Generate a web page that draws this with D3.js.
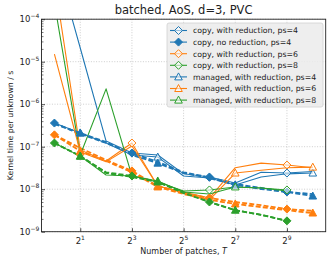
<!DOCTYPE html>
<html><head><meta charset="utf-8">
<script src="https://cdn.jsdelivr.net/npm/d3@7"></script>
<style>body{margin:0;background:#fff}svg{display:block}text{font-family:"DejaVu Sans",sans-serif;fill:#222}</style>
</head><body><svg id="c" width="332" height="263"></svg>
<script>
// ---- data ----
const patches = [1,2,4,8,16,32,64,128,256,512,1024];
const xTickExps = [1,3,5,7,9];
const yTickExps = [-9,-8,-7,-6,-5,-4];
const titleText = "batched, AoS, d=3, PVC";
const xLabel = "Number of patches, ";
const yLabel = "Kernel time per unknown / s";

const copyRed4     = [3.1e-3, 2.1e-5, 1.36e-7, 7.1e-8, 6.4e-8, 2.3e-8, 1.94e-8, 1.4e-8, 2.5e-8, 2.4e-8, 2.6e-8];
const copyNoRed4   = [3.6e-7, 2.0e-7, 1.22e-7, 7.1e-8, 4.4e-8, 2.5e-8, 1.9e-8, 1.33e-8, 1.07e-8, 8.6e-9, 7.7e-9];
const copyRed6     = [8.3e-4, 8.4e-8, 4.6e-8, 1.22e-7, 1.19e-8, 8.6e-9, 6.2e-9, 3.2e-8, 4.1e-8, 3.7e-8, 3.2e-8];
const copyNoRed6   = [1.9e-7, 9.3e-8, 4.9e-8, 2.7e-8, 1.19e-8, 8.1e-9, 6.2e-9, 5.0e-9, 4.2e-9, 3.4e-9, 3.1e-9];
const copyRed8     = [2.4e-4, 6.4e-8, 2.3e-6, 2.05e-8, 1.48e-8, 9.1e-9, 9.6e-9, 1.13e-8, 1.07e-8, 9.6e-9];
const copyNoRed8   = [1.22e-7, 6.0e-8, 2.5e-8, 2.05e-8, 1.48e-8, 8.6e-9, 5.0e-9, 3.2e-9, 2.5e-9, 1.8e-9];
const managedRed4  = [3.6e-7, 2.1e-7, 1.22e-7, 6.4e-8, 5.7e-8, 2.05e-8, 1.83e-8, 1.26e-8, 1.94e-8, 2.3e-8, 2.4e-8];
const managedNoRed4= [3.4e-7, 2.1e-7, 1.29e-7, 6.4e-8, 4.1e-8, 2.4e-8, 1.83e-8, 1.26e-8, 1.01e-8, 8.6e-9, 6.9e-9];
const managedRed6  = [1.5e-5, 7.5e-8, 4.4e-8, 1.04e-7, 1.19e-8, 8.1e-9, 5.6e-9, 2.4e-8, 2.8e-8, 3.2e-8, 3.3e-8];
const managedNoRed6= [1.9e-7, 7.9e-8, 4.6e-8, 2.5e-8, 1.13e-8, 7.7e-9, 5.6e-9, 4.5e-9, 3.8e-9, 3.2e-9, 2.75e-9];
const managedRed8  = [1.22e-7, 6.0e-8, 2.16e-8, 2.05e-8, 1.56e-8, 8.6e-9, 7.7e-9, 1.13e-8, 1.07e-8, 9.1e-9];
const managedNoRed8= [1.22e-7, 6.0e-8, 2.4e-8, 1.94e-8, 1.48e-8, 8.1e-9, 5.0e-9, 3.2e-9, 2.5e-9, 1.8e-9];

const C4 = "#1f77b4", C6 = "#ff7f0e", C8 = "#2ca02c";
const series = [
  {label:"copy, with reduction, ps=4", v:copyRed4, color:C4, dashed:false, marker:"D", open:true, start:0},
  {label:"copy, no reduction, ps=4", v:copyNoRed4, color:C4, dashed:true, marker:"D", open:false, start:0},
  {label:"copy, with reduction, ps=6", v:copyRed6, color:C6, dashed:false, marker:"D", open:true, start:0},
  {label:null, v:copyNoRed6, color:C6, dashed:true, marker:"D", open:false, start:0},
  {label:"copy, with reduction, ps=8", v:copyRed8, color:C8, dashed:false, marker:"D", open:true, start:0},
  {label:null, v:copyNoRed8, color:C8, dashed:true, marker:"D", open:false, start:0},
  {label:"managed, with reduction, ps=4", v:managedRed4, color:C4, dashed:false, marker:"^", open:true, start:1},
  {label:null, v:managedNoRed4, color:C4, dashed:true, marker:"^", open:false, start:1},
  {label:"managed, with reduction, ps=6", v:managedRed6, color:C6, dashed:false, marker:"^", open:true, start:1},
  {label:null, v:managedNoRed6, color:C6, dashed:true, marker:"^", open:false, start:1},
  {label:"managed, with reduction, ps=8", v:managedRed8, color:C8, dashed:false, marker:"^", open:true, start:1},
  {label:null, v:managedNoRed8, color:C8, dashed:true, marker:"^", open:false, start:1},
];

// ---- layout ----
const L = 41.5, R = 325.7, T = 19.2, B = 231.7;
const svg = d3.select("#c");
const x = d3.scaleLog().base(2).domain([Math.pow(2,-0.5), Math.pow(2,10.5)]).range([L, R]);
const y = d3.scaleLog().domain([1e-9, 1e-4]).range([B, T]);

svg.append("defs").append("clipPath").attr("id","clip")
  .append("rect").attr("x",L).attr("y",T).attr("width",R-L).attr("height",B-T);

// grid
const grid = svg.append("g").attr("stroke","#b8b8b8").attr("stroke-width",0.7).attr("stroke-dasharray","1,1.6");
xTickExps.forEach(e => grid.append("line").attr("x1",x(Math.pow(2,e))).attr("x2",x(Math.pow(2,e))).attr("y1",T).attr("y2",B));
yTickExps.forEach(e => grid.append("line").attr("y1",y(Math.pow(10,e))).attr("y2",y(Math.pow(10,e))).attr("x1",L).attr("x2",R));

// axes (ticks inward)
const xAxis = d3.axisBottom(x).tickValues(xTickExps.map(e=>Math.pow(2,e))).tickSize(-3.5).tickFormat("");
svg.append("g").attr("transform",`translate(0,${B})`).call(xAxis)
  .call(g=>g.select(".domain").remove()).selectAll("line").attr("stroke","#222").attr("stroke-width",0.8);
const minorY = [];
for (let e=-9;e<-4;e++) for (let m=2;m<10;m++) minorY.push(m*Math.pow(10,e));
const yAxis = d3.axisLeft(y).tickValues(yTickExps.map(e=>Math.pow(10,e))).tickSize(-3.5).tickFormat("");
svg.append("g").attr("transform",`translate(${L},0)`).call(yAxis)
  .call(g=>g.select(".domain").remove()).selectAll("line").attr("stroke","#222").attr("stroke-width",0.8);
const yMinor = d3.axisLeft(y).tickValues(minorY).tickSize(-2).tickFormat("");
svg.append("g").attr("transform",`translate(${L},0)`).call(yMinor)
  .call(g=>g.select(".domain").remove()).selectAll("line").attr("stroke","#222").attr("stroke-width",0.6);

// tick labels
xTickExps.forEach(e=>{
  const t = svg.append("text").attr("x",x(Math.pow(2,e))).attr("y",244).attr("text-anchor","middle").attr("font-size",8.5);
  t.append("tspan").text("2");
  t.append("tspan").attr("dy",-4).attr("font-size",6).text(String(e));
});
yTickExps.forEach(e=>{
  const t = svg.append("text").attr("x",39.3).attr("y",y(Math.pow(10,e))+3.2).attr("text-anchor","end").attr("font-size",8.5);
  t.append("tspan").text("10");
  t.append("tspan").attr("dy",-4).attr("font-size",6).text("\u2212"+Math.abs(e));
});

// axis labels & title
const xl = svg.append("text").attr("x",(L+R)/2).attr("y",254).attr("text-anchor","middle").attr("font-size",8);
xl.append("tspan").text(xLabel);
xl.append("tspan").attr("font-style","italic").text("T");
svg.append("text").attr("transform",`translate(13,${(T+B)/2}) rotate(-90)`).attr("text-anchor","middle").attr("font-size",7.8).text(yLabel);
svg.append("text").attr("x",(L+R)/2).attr("y",14).attr("text-anchor","middle").attr("font-size",11.5).text(titleText);

// marker paths
function markerPath(m){
  if (m==="D") return "M0,-4L4,0L0,4L-4,0Z";
  return "M0,-4L3.8,3L-3.8,3Z";
}

// data lines
const plot = svg.append("g").attr("clip-path","url(#clip)");
const line = d3.line().x((d,i)=>x(patches[i])).y(d=>y(d));
series.forEach(s=>{
  plot.append("path").attr("d",line(s.v)).attr("fill","none").attr("stroke",s.color)
    .attr("stroke-width", s.dashed?1.8:1.1).attr("stroke-dasharray", s.dashed?"5,2.2":null)
    .attr("stroke-linejoin","round");
});
series.forEach(s=>{
  s.v.forEach((d,i)=>{
    if (i<s.start || (i-s.start)%3!==0) return;
    plot.append("path").attr("d",markerPath(s.marker))
      .attr("transform",`translate(${x(patches[i])},${y(d)})`)
      .attr("fill", s.open ? "#fff" : s.color).attr("fill-opacity", s.open?0.55:1)
      .attr("stroke", s.color).attr("stroke-width",1);
  });
});

// frame
svg.append("rect").attr("x",L).attr("y",T).attr("width",R-L).attr("height",B-T)
  .attr("fill","none").attr("stroke","#222").attr("stroke-width",0.9);

// legend
const leg = series.filter(s=>s.label);
const lg = svg.append("g");
lg.append("rect").attr("x",167).attr("y",23).attr("width",156).attr("height",84).attr("rx",2)
  .attr("fill","#ebebeb").attr("fill-opacity",0.85).attr("stroke","#d0d0d0").attr("stroke-width",0.8);
leg.forEach((s,i)=>{
  const yy = 30.5 + i*11.6;
  lg.append("line").attr("x1",170).attr("x2",187).attr("y1",yy).attr("y2",yy)
    .attr("stroke",s.color).attr("stroke-width",1.1);
  lg.append("path").attr("d",markerPath(s.marker)).attr("transform",`translate(178.5,${yy})`)
    .attr("fill", s.open ? "#fff" : s.color).attr("fill-opacity", s.open?0.55:1)
    .attr("stroke",s.color).attr("stroke-width",1);
  lg.append("text").attr("x",193).attr("y",yy+2.8).attr("font-size",7.8).text(s.label);
});
</script></body></html>
